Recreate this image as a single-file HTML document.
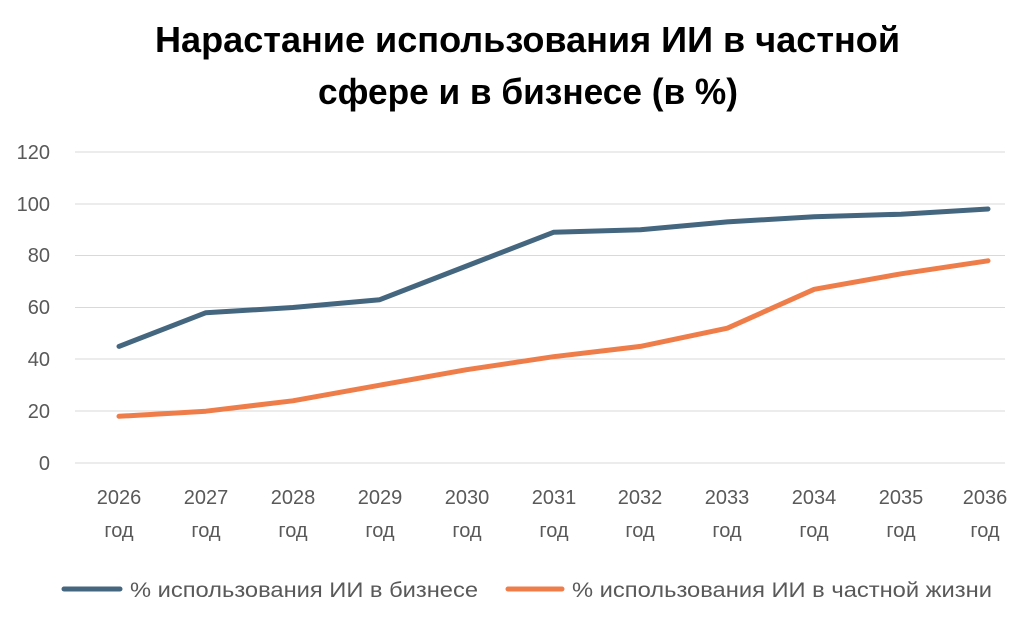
<!DOCTYPE html>
<html><head><meta charset="utf-8"><style>
body{margin:0;background:#fff;}
svg text{font-family:"Liberation Sans",sans-serif;}
</style></head><body>
<svg width="1024" height="618" xmlns="http://www.w3.org/2000/svg">
<rect width="1024" height="618" fill="#fff"/>
<text x="155" y="52" font-size="36" font-weight="bold" fill="#000" textLength="745" lengthAdjust="spacingAndGlyphs">Нарастание использования  ИИ в частной</text>
<text x="318" y="104" font-size="36" font-weight="bold" fill="#000" textLength="420" lengthAdjust="spacingAndGlyphs">сфере и в бизнесе (в %)</text>
<g stroke="#d9d9d9" stroke-width="1">
<line x1="75" x2="1005" y1="152" y2="152"/>
<line x1="75" x2="1005" y1="204" y2="204"/>
<line x1="75" x2="1005" y1="255.5" y2="255.5"/>
<line x1="75" x2="1005" y1="307.5" y2="307.5"/>
<line x1="75" x2="1005" y1="359" y2="359"/>
<line x1="75" x2="1005" y1="411" y2="411"/>
<line x1="75" x2="1005" y1="463" y2="463"/>
</g>
<g font-size="20" fill="#595959" text-anchor="end">
<text x="50" y="159">120</text><text x="50" y="211">100</text><text x="50" y="262">80</text>
<text x="50" y="314">60</text><text x="50" y="366">40</text><text x="50" y="418">20</text><text x="50" y="470">0</text>
</g>
<g font-size="20" fill="#595959" text-anchor="middle">
<text x="119" y="504">2026</text><text x="119" y="537">год</text>
<text x="206" y="504">2027</text><text x="206" y="537">год</text>
<text x="293" y="504">2028</text><text x="293" y="537">год</text>
<text x="380" y="504">2029</text><text x="380" y="537">год</text>
<text x="467" y="504">2030</text><text x="467" y="537">год</text>
<text x="554" y="504">2031</text><text x="554" y="537">год</text>
<text x="640" y="504">2032</text><text x="640" y="537">год</text>
<text x="727" y="504">2033</text><text x="727" y="537">год</text>
<text x="814" y="504">2034</text><text x="814" y="537">год</text>
<text x="901" y="504">2035</text><text x="901" y="537">год</text>
<text x="985" y="504">2036</text><text x="985" y="537">год</text>
</g>
<polyline fill="none" stroke="#44667f" stroke-width="5" stroke-linejoin="round" stroke-linecap="round"
points="119,346.4 205.9,312.7 292.8,307.5 379.7,299.7 466.6,266 553.5,232.3 640.4,229.7 727.3,221.9 814.2,216.8 901.1,214.2 988,209"/>
<polyline fill="none" stroke="#ee7d4a" stroke-width="5" stroke-linejoin="round" stroke-linecap="round"
points="119,416.3 205.9,411.2 292.8,400.8 379.7,385.2 466.6,369.7 553.5,356.7 640.4,346.4 727.3,328.2 814.2,289.3 901.1,273.8 988,260.8"/>
<line x1="64" x2="120" y1="589" y2="589" stroke="#44667f" stroke-width="5" stroke-linecap="round"/>
<text x="130" y="597" font-size="21" fill="#595959" textLength="348" lengthAdjust="spacingAndGlyphs">% использования ИИ в бизнесе</text>
<line x1="508" x2="562" y1="589" y2="589" stroke="#ee7d4a" stroke-width="5" stroke-linecap="round"/>
<text x="572" y="597" font-size="21" fill="#595959" textLength="420" lengthAdjust="spacingAndGlyphs">% использования ИИ в частной жизни</text>
</svg>
</body></html>
